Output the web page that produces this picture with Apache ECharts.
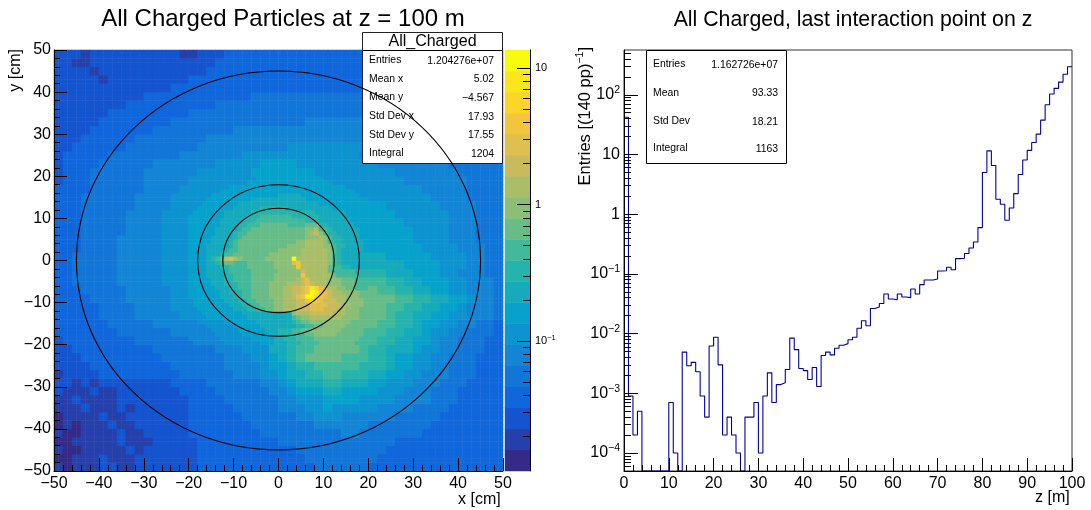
<!DOCTYPE html>
<html><head><meta charset="utf-8">
<style>html,body{margin:0;padding:0;background:#fff}#c{width:1091px;height:510px}</style>
<script src="https://cdn.jsdelivr.net/npm/echarts@6/dist/echarts.min.js"></script>
</head><body><div id="c"></div>
<script>
// kBird palette, 20 contour levels, letters a..t
const palette = ['#352a87','#253fab','#1554cf','#1066db','#1275d8','#1385d5','#0d93d0','#07a2cb','#15abbc','#26b3ac','#41b99b','#67bc88','#8bbf76','#aabd67','#c9bb5c','#dfbf4d','#f2c53c','#fdd529','#fbe61d','#f9fb0e'];
// 2 cm cells, y from +49 down to -49, x from -50 to +50, run-length level codes
const coarseRows = [
'c3 b1 c10 b2 c3 d31','c2 b2 c14 d32','c4 b1 c12 d33','c5 b1 c9 d35','c13 d37','c10 d12 e28','c8 d10 e32','c6 d9 e35',
'c5 d8 e15 f22','c4 d7 e9 f30','c3 d6 e8 f33','c2 d6 e8 f10 g24','c1 d5 e8 f7 g13 f8 e7 d1','c1 d4 e6 f7 g5 h4 g9 f8 e6',
'c1 d3 e6 f6 g6 h7 g9 f7 e5','c1 d3 e6 f5 g5 h11 g8 f7 e4','d4 e6 f4 g4 h15 g8 f5 e4','d3 e6 f4 g4 h18 g7 f4 e4',
'd3 e6 f4 g3 h21 g6 f4 e3','d3 e5 f4 g3 h23 g6 f3 e3','d3 e5 f4 g3 h24 g5 f3 e3','d3 e5 f4 g3 h25 g4 f3 e3',
'd3 e4 f5 g3 h25 g4 f3 e3','d3 e4 f5 g3 h26 g4 f3 e2','d2 e5 f5 g3 h20 i2 h5 g4 f2 e2','d2 e5 f5 g3 h20 i4 h4 g3 f2 e2',
'd2 e5 f5 g3 h20 j2 i3 h3 g2 f3 e2','d2 e5 f5 g3 h20 k2 j2 i2 h3 g2 f3 e1','d3 e5 f5 g2 h20 l1 k2 j2 i2 h2 g2 f3 e1',
'd4 e4 f5 g3 h19 l3 k2 j2 i2 h2 g1 f2 e1','d5 e4 f4 g3 h19 l2 k2 j2 i2 h2 g1 f3 e1','d5 e4 f5 g3 h18 l2 k1 j2 i2 h2 g2 f3 e1',
'd6 e5 f6 g3 h15 l1 k2 j2 i1 h2 g2 f2 e2 d1','d7 e6 f5 g4 h13 k2 j2 i2 h1 g2 f2 e3 d1','c1 d8 e7 f4 g3 h12 k1 j2 i2 h2 g1 f2 e3 d2',
'c2 d9 e7 f3 g3 i2 j1 k2 l5 k1 j2 i3 h1 g2 f2 e3 d2','c3 d9 e7 f3 g2 h1 i1 j1 k1 l4 k3 j2 i1 h2 g2 f2 e3 d3',
'c4 d9 e6 f4 g1 h2 i1 j2 k5 j3 i1 h2 g2 f2 e3 d3','b1 c4 d9 e6 f3 g2 h1 i2 j2 k2 j3 i2 h2 g2 f3 e3 d3',
'c2 b1 c1 b1 c8 d4 e6 f2 g1 h1 i3 j2 i3 h2 g3 f3 e3 d4','c1 b3 c1 b2 c7 d4 e6 f2 g1 h3 i2 h4 g3 f3 e3 d5','b2 c1 b4 c8 d4 e6 f2 g3 h4 g4 f4 e3 d5',
'b3 c1 b3 c1 b1 c6 d5 e5 f3 g2 h1 g5 f4 e4 d6','a1 b4 c1 b2 c7 d6 e6 f2 g3 f6 e5 d7','a1 b1 a1 b3 c1 b2 c6 d7 e7 f6 e7 d8','b1 a2 b4 c1 b2 c5 d8 e9 f2 e7 d9',
'a2 b5 c1 b3 c5 d9 e13 d12','b1 a2 b5 c1 b1 c6 d11 e10 d13','a2 b3 c1 b3 c7 d12 e8 d14','b1 a1 b3 c2 b2 c7 d13 e6 d15'];
// 1 cm cells, y from +19.5 down to -19.5, x from -20 to +20
const fineRows = [
'g15 h15 g10','g13 h19 g8','g9 h26 g5','g7 h30 g3','g5 h15 i5 h13 g2','g4 h10 i12 h14','g3 h8 i18 h11','g2 h8 i6 j6 i10 h8',
'g1 h7 i6 j14 i7 h5','h8 i5 j3 k7 j6 i6 h5','h7 i5 j3 k11 j3 i7 h4','h7 i4 j2 k3 l6 k4 l3 j2 i6 h3','h6 i5 j1 k2 l12 m2 n1 k2 j1 i6 h2',
'h6 i4 j1 k2 l13 m1 n1 o1 m1 k1 j2 i5 h2','h5 i5 j1 k1 l14 m3 n1 m1 k1 j2 i4 h2','h5 i4 j1 k1 l13 m2 n4 m1 k1 j2 i5 h1',
'h4 i5 j1 k1 l11 m4 n4 m2 k1 j2 i4 h1','h4 i4 j1 k2 l9 m5 n6 m1 k1 j1 i5 h1','h4 i3 j1 k2 l8 m7 n6 m1 k1 j1 i6',
'h4 i1 j1 k1 l1 o1 p1 n1 m1 l5 m6 t1 n7 m1 k1 j1 i6','h4 i2 j1 k1 l2 k3 l6 m4 p1 q1 n6 m1 k1 j1 i6',
'h4 i3 j2 k4 l6 m5 q1 n6 l1 k2 j2 i4','h4 i4 j1 k5 l6 m5 o1 n5 l1 k5 j3','h4 i4 j2 k4 l5 m6 q1 n6 l1 k5 j2',
'h5 i3 j2 k4 l5 m5 n1 o1 p1 n4 m3 l3 k3','h5 i3 j3 k3 l4 m4 n3 o1 p1 o1 n3 m3 l3 k3',
'h6 i3 j2 k3 l4 m3 n2 o2 p1 q1 s1 r1 p1 o1 n2 m2 l2 k3','h7 i2 j3 k2 l4 m3 n2 o2 p1 q1 t1 s1 q1 p1 o1 n2 m4 l2',
'h7 i3 j2 k2 l4 m3 n2 o1 p1 q1 t2 r1 q1 p1 o1 n3 m3 l2','g1 h7 i3 j2 k2 l4 m2 n3 o2 q1 r1 q1 p1 o3 n2 m4 l1',
'g1 h8 i3 j2 k2 l3 m2 n3 o3 p4 o3 n2 m3 l1','g2 h8 i3 j2 k2 l2 m2 n3 o3 p3 o3 n2 m3 l2','g3 h9 i11 m1 n3 o5 n3 m3 l2',
'g4 h9 i10 k1 l1 m2 n7 m4 l2','f2 g6 h7 i8 j1 k1 l2 m9 l4','f4 g6 h6 i8 j2 k2 l2 m5 l5','f5 g6 h6 i3 j3 k2 l2 m7 l5 k1',
'f6 g6 h6 i2 j3 k3 l2 m5 l6 k1','f7 g7 h5 i2 j3 k4 l10 k2','e1 f7 g8 h3 i3 j3 k4 l8 k3'];
const circleRadii = [45, 18, 12.4];
// entries per bin of 1 m, z = 0..100
const zHist = [42,9e-4,2e-4,5e-4,0,0,0,0,0,0,7e-4,1e-4,0,4.9e-3,2.9e-3,3.3e-3,2.3e-3,9e-4,4e-4,6.2e-3,
8.7e-3,3e-3,2e-4,4e-4,2e-4,1e-4,0,4e-4,4e-4,7e-4,1e-4,9e-4,2.2e-3,7e-4,1.4e-3,1.5e-3,2.5e-3,8.4e-3,5.4e-3,2.6e-3,
2.4e-3,1.7e-3,2.7e-3,1.3e-3,4.3e-3,4.9e-3,4.4e-3,5.7e-3,6.4e-3,6.8e-3,7.9e-3,8.7e-3,0.0123,0.0164,0.0135,0.0263,0.0278,0.032,0.046,0.038,
0.037,0.046,0.041,0.04,0.056,0.046,0.066,0.079,0.079,0.082,0.112,0.113,0.129,0.117,0.18,0.183,0.219,0.271,0.342,0.596,
4.98,11.5,6.53,1.78,1.47,0.79,1.27,2.21,4.61,8.1,11.7,15.9,21.9,37.6,68,103,128,163,220,295];
const histFloor = 5e-5;
const statsLeftTitle = 'All_Charged';
const statsLeftLabels = ['Entries','Mean x','Mean y','Std Dev x','Std Dev y','Integral'];
const statsLeftValues = ['1.204276e+07','5.02','\u22124.567','17.93','17.55','1204'];
const statsRightLabels = ['Entries','Mean','Std Dev','Integral'];
const statsRightValues = ['1.162726e+07','93.33','18.21','1163'];
const barMajor = [0.1,1,10];
const barMinor = [0.02,0.03,0.04,0.05,0.06,0.07,0.08,0.09,0.2,0.3,0.4,0.5,0.6,0.7,0.8,0.9,2,3,4,5,6,7,8,9];
const histMajor = [1e-4,1e-3,1e-2,0.1,1,10,100];
const histMinor = [6e-5,7e-5,8e-5,9e-5,2e-4,3e-4,4e-4,5e-4,6e-4,7e-4,8e-4,9e-4,2e-3,3e-3,4e-3,5e-3,6e-3,7e-3,8e-3,9e-3,0.02,0.03,0.04,0.05,0.06,0.07,0.08,0.09,0.2,0.3,0.4,0.5,0.6,0.7,0.8,0.9,2,3,4,5,6,7,8,9,20,30,40,50,60,70,80,90,200,300,400,500];

const FONT = '"Liberation Sans", Arial, sans-serif';
const decode = s => s.split(' ').flatMap(r => Array(+r.slice(1)).fill(r.charCodeAt(0) - 97));
const grid2d = Array.from({length:100}, () => new Array(100).fill(0)); // [row from bottom][col]
coarseRows.forEach((s, r) => decode(s).forEach((v, c) => {
  for (let a = 0; a < 2; a++) for (let b = 0; b < 2; b++) grid2d[99 - r * 2 - a][c * 2 + b] = v;
}));
fineRows.forEach((s, r) => decode(s).forEach((v, c) => { grid2d[69 - r][30 + c] = v; }));
const heatData = [];
grid2d.forEach((row, y) => row.forEach((v, x) => heatData.push([x, y, v])));
const cats100 = Array.from({length:100}, (_, i) => i);
const levels = palette.map((_, i) => i);

const tickBase = {
  axisLine:{show:true,onZero:false,lineStyle:{color:'#000',width:1}},
  axisTick:{show:true,inside:true,length:13,lineStyle:{color:'#000',width:1}},
  minorTick:{show:true,splitNumber:5,length:6,lineStyle:{color:'#000',width:1}},
  splitLine:{show:false},minorSplitLine:{show:false},
  z:10
};
const fmtMinus = v => String(v).replace('-', '\u2212');
const valX = (grid,min,max) => Object.assign({type:'value',gridIndex:grid,min,max,interval:10,position:'bottom',
  axisLabel:{color:'#000',fontFamily:FONT,fontSize:16,margin:5,hideOverlap:false,showMinLabel:true,showMaxLabel:true,formatter:fmtMinus}},tickBase);
const hidden = (type,grid,extra) => Object.assign({type,gridIndex:grid,show:false},extra||{});
const supLabel = v => {
  const e = Math.round(Math.log10(v));
  if (e === 0) return '{b|1}';
  if (e === 1) return '{b|10}';
  return '{b|10}{s|' + fmtMinus(e) + '}';
};
const logAxis = (grid,min,max,pos,major,minor,isMajor,lenMaj,lenMin,fs,sfs,margin) => ({
  type:'log',logBase:10,gridIndex:grid,min,max,position:pos,z:10,
  axisLine:{show:isMajor,onZero:false,lineStyle:{color:'#000',width:1}},
  axisTick:{show:true,inside:true,length:isMajor?lenMaj:lenMin,customValues:isMajor?major:minor,lineStyle:{color:'#000',width:1}},
  minorTick:{show:false},splitLine:{show:false},
  axisLabel: isMajor ? {show:true,customValues:major,margin,formatter:supLabel,color:'#000',fontFamily:FONT,
    rich:{b:{fontSize:fs,fontFamily:FONT,color:'#000',lineHeight:fs+4},s:{fontSize:sfs,fontFamily:FONT,color:'#000',verticalAlign:'top',lineHeight:sfs+2}}} : {show:false}
});
const barTop = Math.pow(10,1.133), barBottom = Math.pow(10,-1.952);

const txt = (x,y,text,size,align,z) => ({type:'text',x,y,z:z||6,silent:true,style:{text,fontSize:size,fontFamily:FONT,fill:'#000',align:align||'left',verticalAlign:'middle'}});
const graphics = [
  {type:'rect',z:5,silent:true,shape:{x:362.5,y:32.5,width:140,height:131},style:{fill:'#fff',stroke:'#222',lineWidth:1}},
  {type:'line',z:6,silent:true,shape:{x1:362.5,y1:50.5,x2:502.5,y2:50.5},style:{stroke:'#000',lineWidth:1}},
  txt(432.5,41.5,statsLeftTitle,16,'center'),
  {type:'rect',z:5,silent:true,shape:{x:646.5,y:50.5,width:140,height:113},style:{fill:'#fff',stroke:'#000',lineWidth:1}},
  txt(458,500,'x [cm]',16,'left'),
  txt(1035,498,'z [m]',16,'left'),
  {type:'text',x:16,y:49,rotation:Math.PI/2,silent:true,style:{text:'y [cm]',fontSize:16,fontFamily:FONT,fill:'#000',align:'right',verticalAlign:'middle'}},
  {type:'text',x:585,y:47,rotation:Math.PI/2,silent:true,style:{text:'{a|Entries [(140 pp)}{s|\u22121}{a|]}',fontFamily:FONT,fill:'#000',align:'right',verticalAlign:'middle',
    rich:{a:{fontSize:16.5,fontFamily:FONT,fill:'#000',color:'#000',lineHeight:20},s:{fontSize:10.5,fontFamily:FONT,color:'#000',verticalAlign:'top',lineHeight:12}}}}
];
const leftRowY = [60.5,79,97.5,116.5,135,153.5];
statsLeftLabels.forEach((t,i) => {
  graphics.push(txt(369,leftRowY[i],t,10.4,'left'));
  graphics.push(txt(494,leftRowY[i]+0.5,statsLeftValues[i],10.4,'right'));
});
const rightRowY = [64.5,93,121.5,148.5];
statsRightLabels.forEach((t,i) => {
  graphics.push(txt(653,rightRowY[i],t,10.4,'left'));
  graphics.push(txt(778,rightRowY[i]+0.5,statsRightValues[i],10.4,'right'));
});

const histPoints = zHist.map((v,i) => [i, v > 0 ? v : histFloor]);
histPoints.push([100, zHist[99]]);

const chart = echarts.init(document.getElementById('c'), null, {renderer:'canvas',width:1091,height:510});
chart.setOption({
  animation:false,
  backgroundColor:'#fff',
  title:[
    {text:'All Charged Particles at z = 100 m',left:278,top:2,textAlign:'center',textStyle:{fontFamily:FONT,fontWeight:'normal',fontSize:24,color:'#000'}},
    {text:'All Charged, last interaction point on z',left:848,top:5,textAlign:'center',textStyle:{fontFamily:FONT,fontWeight:'normal',fontSize:21.3,color:'#000'}}
  ],
  grid:[
    {left:54,top:50,width:449,height:421,containLabel:false},
    {left:505,top:50,width:25,height:421,containLabel:false},
    {left:624,top:50,width:448,height:421,containLabel:false,show:true,borderColor:'#333',borderWidth:1,backgroundColor:'transparent'}
  ],
  xAxis:[
    hidden('category',0,{data:cats100}),
    valX(0,-50,50),
    hidden('category',1,{data:[0]}),
    valX(2,0,100)
  ],
  yAxis:[
    hidden('category',0,{data:cats100}),
    Object.assign({type:'value',gridIndex:0,min:-50,max:50,interval:10,position:'left',
      axisLabel:{color:'#000',fontFamily:FONT,fontSize:16,margin:3,formatter:fmtMinus}},tickBase),
    hidden('category',1,{data:levels}),
    logAxis(1,barBottom,barTop,'right',barMajor,barMinor,true,13,7,11,7.5,5),
    logAxis(1,barBottom,barTop,'right',barMajor,barMinor,false,13,7,11,7.5,5),
    logAxis(2,histFloor,562,'left',histMajor,histMinor,true,14,7,16,10.5,4),
    logAxis(2,histFloor,562,'left',histMajor,histMinor,false,14,7,16,10.5,4)
  ],
  visualMap:{show:false,type:'piecewise',seriesIndex:[0,1],dimension:2,
    pieces:palette.map((color,i) => ({value:i,color}))},
  graphic:{elements:graphics},
  series:[
    {type:'heatmap',xAxisIndex:0,yAxisIndex:0,data:heatData,progressive:0,silent:true,z:2,emphasis:{disabled:true}},
    {type:'heatmap',xAxisIndex:2,yAxisIndex:2,data:levels.map(l => [0,l,l]),progressive:0,silent:true,z:2,emphasis:{disabled:true}},
    {type:'custom',xAxisIndex:1,yAxisIndex:1,z:20,silent:true,clip:false,
      data:circleRadii.map(r => [0,0,r]),encode:{x:0,y:1},
      renderItem:(p,api) => {
        const c = api.coord([api.value(0),api.value(1)]);
        const s = api.size([api.value(2),api.value(2)],[0,0]);
        return {type:'ellipse',shape:{cx:c[0],cy:c[1],rx:s[0],ry:s[1]},style:{fill:'none',stroke:'#000',lineWidth:1.1},silent:true};
      }},
    {type:'line',xAxisIndex:3,yAxisIndex:5,data:histPoints,step:'end',showSymbol:false,symbol:'none',silent:true,z:5,
      lineStyle:{color:'#00009c',width:1.1}}
  ]
});
</script></body></html>
